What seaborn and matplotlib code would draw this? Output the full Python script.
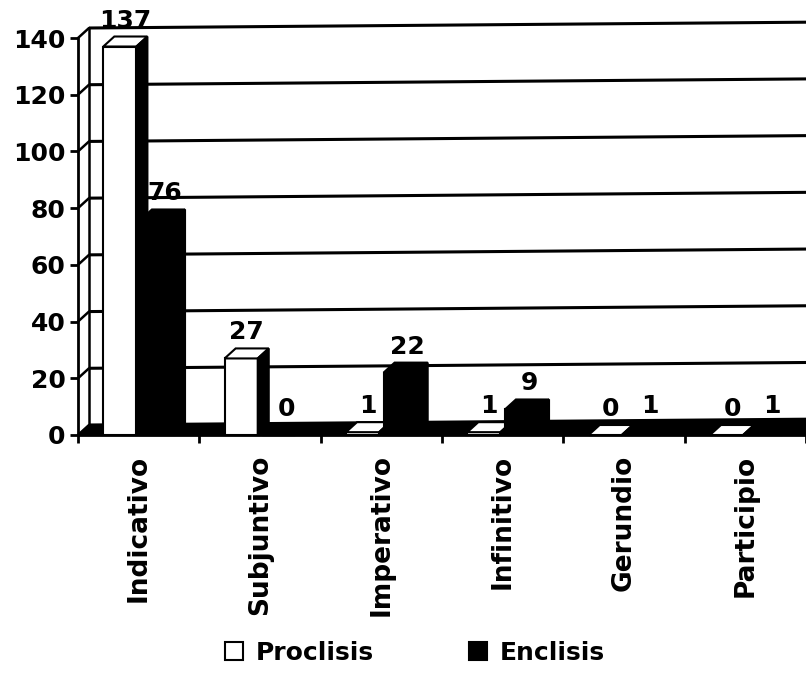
import matplotlib
matplotlib.use("Agg")
import matplotlib.pyplot as plt
from matplotlib.patches import Polygon
import pandas as pd
import seaborn as sns

# --- data ---------------------------------------------------------------
categories = ["Indicativo", "Subjuntivo", "Imperativo", "Infinitivo", "Gerundio", "Participio"]
proclisis = [137, 27, 1, 1, 0, 0]
enclisis = [76, 0, 22, 9, 1, 1]
series_names = ["Proclisis", "Enclisis"]
y_ticks = [0, 20, 40, 60, 80, 100, 120, 140]

df = pd.DataFrame({
    "Modo": categories * 2,
    "Casos": proclisis + enclisis,
    "Serie": [series_names[0]] * len(categories) + [series_names[1]] * len(categories),
})

# --- style --------------------------------------------------------------
sns.set_theme(style="white")
plt.rcParams["font.family"] = ["DejaVu Sans"]
plt.rcParams["font.weight"] = "bold"
plt.rcParams["text.color"] = "black"
plt.rcParams["xtick.color"] = "black"
plt.rcParams["ytick.color"] = "black"
plt.rcParams["xtick.labelcolor"] = "black"
plt.rcParams["ytick.labelcolor"] = "black"

W, H = 806, 673
fig = plt.figure(figsize=(W / 100, H / 100), dpi=100)
ax_left, ax_right, ax_top, ax_bottom = 78, 806, 38, 435
ax = fig.add_axes([ax_left / W, (H - ax_bottom) / H,
                   (ax_right - ax_left) / W, (ax_bottom - ax_top) / H])

palette = {"Proclisis": "white", "Enclisis": "black"}
sns.barplot(data=df, x="Modo", y="Casos", hue="Serie", order=categories,
            hue_order=series_names, palette=palette, width=0.62, gap=0.12,
            edgecolor="black", linewidth=1.5, ax=ax)

ax.set_xlim(-0.5, len(categories) - 0.5)
ax.set_ylim(0, 140)

# pixel -> data scale factors for the pseudo 3-D depth
px_x = (ax_right - ax_left) / len(categories)
px_y = (ax_bottom - ax_top) / 140
DX, DY, DY_R = 11, 10, 16
dxd, dyd, dyd_r = DX / px_x, DY / px_y, DY_R / px_y
x0_axis, x1_axis = -0.5, len(categories) - 0.5

# floor (black slab) and back-wall grid lines
ax.add_patch(Polygon([(x0_axis, 0), (x1_axis + 1, 0), (x1_axis + 1 + dxd, dyd_r),
                      (x0_axis + dxd, dyd)], closed=True, facecolor="black",
                     edgecolor="black", lw=1, zorder=1))
for v in y_ticks:
    ax.plot([x0_axis + dxd, x1_axis + 0.2], [v + dyd, v + dyd_r], color="black",
            lw=2.2, zorder=1.5, solid_capstyle="butt", clip_on=False)
    # side wall connectors
    ax.plot([x0_axis, x0_axis + dxd], [v, v + dyd], color="black", lw=1.8,
            zorder=1.5, clip_on=False)
ax.plot([x0_axis + dxd, x0_axis + dxd], [dyd, 140 + dyd], color="black", lw=1.8,
        zorder=1.5, clip_on=False)

# 3-D faces for each bar, plus value labels
for k, (container, values) in enumerate(zip(ax.containers, [proclisis, enclisis])):
    face = palette[series_names[k]]
    base_z = 3 + k * 0.5
    for bar, val in zip(container, values):
        bar.set_zorder(base_z)
        bar.set_clip_on(False)
        x0, w, h = bar.get_x(), bar.get_width(), bar.get_height()
        top = Polygon([(x0, h), (x0 + w, h), (x0 + w + dxd, h + dyd), (x0 + dxd, h + dyd)],
                      closed=True, facecolor=face, edgecolor="black", lw=1.5,
                      zorder=base_z + 0.2, clip_on=False)
        side = Polygon([(x0 + w, 0), (x0 + w, h), (x0 + w + dxd, h + dyd), (x0 + w + dxd, dyd)],
                       closed=True, facecolor="black", edgecolor="black", lw=1.5,
                       zorder=base_z + 0.2, clip_on=False)
        ax.add_patch(top)
        ax.add_patch(side)
        ax.annotate(f"{val}", xy=(x0 + w / 2, h), xytext=(DX / 2 + 2 * k, DY + 4),
                    textcoords="offset pixels", ha="center", va="bottom",
                    fontsize=18, fontweight="bold", color="black", zorder=6,
                    annotation_clip=False)

# --- axes ---------------------------------------------------------------
for side_name in ["top", "right"]:
    ax.spines[side_name].set_visible(False)
for side_name in ["left", "bottom"]:
    ax.spines[side_name].set_visible(True)
    ax.spines[side_name].set_color("black")
    ax.spines[side_name].set_linewidth(2)
    ax.spines[side_name].set_zorder(2)

ax.set_yticks(y_ticks)
ax.set_yticklabels([str(t) for t in y_ticks])
ax.tick_params(axis="y", direction="out", length=6, width=2, color="black",
               labelsize=18, labelcolor="black", pad=3, left=True)
ax.set_xticks(range(len(categories)))
ax.set_xticklabels(categories, rotation=90, fontsize=19, fontweight="bold")
ax.set_xticks([i - 0.5 for i in range(len(categories) + 1)], minor=True)
ax.tick_params(axis="x", which="major", length=0, pad=14, labelcolor="black")
ax.tick_params(axis="x", which="minor", direction="out", length=6, width=2,
               color="black", bottom=True)
for lbl in ax.get_yticklabels():
    lbl.set_fontweight("bold")

ax.set_xlabel("")
ax.set_ylabel("")
ax.grid(False)

sns.move_legend(ax, "center", bbox_to_anchor=(415 / W, 20 / H),
                bbox_transform=fig.transFigure, ncol=2, frameon=False, title=None,
                prop={"weight": "bold", "size": 18}, handlelength=0.72,
                handleheight=0.72, handletextpad=0.5, columnspacing=3.8)
for txt in ax.get_legend().get_texts():
    txt.set_color("black")

fig.savefig("out.png", dpi=100)
